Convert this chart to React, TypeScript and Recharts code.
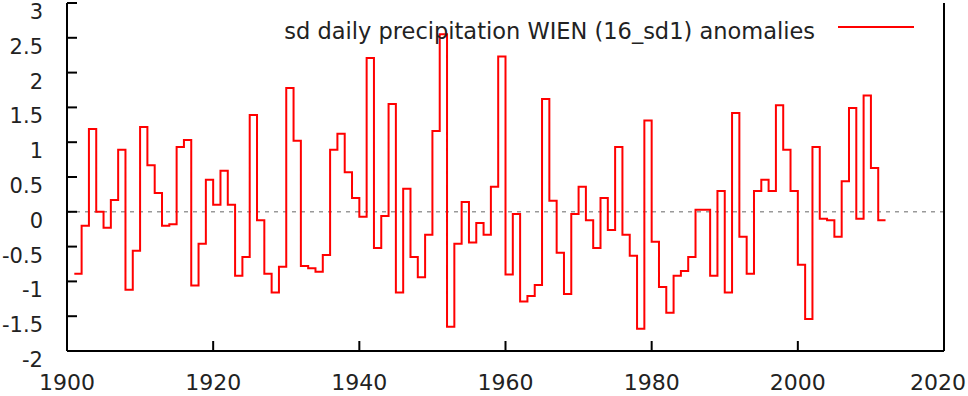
import { LineChart, Line, XAxis, YAxis, ReferenceLine, Legend } from "recharts";

// yearly sd of daily precipitation anomalies, Wien
const YEARS = [
  1901, 1902, 1903, 1904, 1905, 1906, 1907, 1908, 1909, 1910,
  1911, 1912, 1913, 1914, 1915, 1916, 1917, 1918, 1919, 1920,
  1921, 1922, 1923, 1924, 1925, 1926, 1927, 1928, 1929, 1930,
  1931, 1932, 1933, 1934, 1935, 1936, 1937, 1938, 1939, 1940,
  1941, 1942, 1943, 1944, 1945, 1946, 1947, 1948, 1949, 1950,
  1951, 1952, 1953, 1954, 1955, 1956, 1957, 1958, 1959, 1960,
  1961, 1962, 1963, 1964, 1965, 1966, 1967, 1968, 1969, 1970,
  1971, 1972, 1973, 1974, 1975, 1976, 1977, 1978, 1979, 1980,
  1981, 1982, 1983, 1984, 1985, 1986, 1987, 1988, 1989, 1990,
  1991, 1992, 1993, 1994, 1995, 1996, 1997, 1998, 1999, 2000,
  2001, 2002, 2003, 2004, 2005, 2006, 2007, 2008, 2009, 2010,
  2011, 2012,
];

// last value repeated at 2012 so the final step gets its width
const ANOMALIES = [
  -0.89, -0.2, 1.19, 0.0, -0.23, 0.17, 0.89, -1.12, -0.56, 1.22,
  0.67, 0.27, -0.2, -0.18, 0.93, 1.03, -1.06, -0.46, 0.46, 0.1,
  0.59, 0.1, -0.92, -0.65, 1.39, -0.12, -0.89, -1.16, -0.79, 1.78,
  1.02, -0.78, -0.81, -0.86, -0.62, 0.89, 1.12, 0.57, 0.2, -0.07,
  2.21, -0.52, -0.06, 1.55, -1.16, 0.33, -0.65, -0.94, -0.33, 1.16,
  2.55, -1.65, -0.46, 0.14, -0.44, -0.16, -0.33, 0.36, 2.23, -0.9,
  -0.03, -1.29, -1.21, -1.05, 1.62, 0.16, -0.59, -1.18, -0.03, 0.36,
  -0.12, -0.52, 0.2, -0.26, 0.93, -0.33, -0.63, -1.68, 1.31, -0.43,
  -1.08, -1.45, -0.92, -0.85, -0.65, 0.03, 0.03, -0.92, 0.3, -1.16,
  1.42, -0.36, -0.89, 0.3, 0.46, 0.3, 1.53, 0.89, 0.3, -0.76,
  -1.54, 0.93, -0.1, -0.12, -0.36, 0.44, 1.49, -0.1, 1.67, 0.63,
  -0.12, -0.12,
];

const X_TICKS = [1900, 1920, 1940, 1960, 1980, 2000, 2020];
const Y_TICKS = [-2, -1.5, -1, -0.5, 0, 0.5, 1, 1.5, 2, 2.5, 3];

const LEGEND_LABEL = "sd daily precipitation WIEN (16_sd1) anomalies";

const data = YEARS.map((year, i) => ({ year, value: ANOMALIES[i] }));

const FONT = "'DejaVu Sans', sans-serif";
const TICK_LEN = 10;
const CHART_W = 968;

const BottomTick = ({ x, y, payload }: any) => {
  // keep the last label inside the picture
  const half = 28;
  const cx = Math.min(x, CHART_W - half - 2);
  return (
    <g>
      <line x1={x} y1={y} x2={x} y2={y - TICK_LEN} stroke="#000" strokeWidth={2} />
      <text x={cx} y={y + 39} textAnchor="middle" fontSize={22} fontFamily={FONT} fill="#222">
        {payload.value}
      </text>
    </g>
  );
};

const TopTick = ({ x, y }: any) => (
  <line x1={x} y1={y} x2={x} y2={y + TICK_LEN} stroke="#000" strokeWidth={2} />
);

const LeftTick = ({ x, y, payload }: any) => (
  <g>
    <line x1={x} y1={y} x2={x + TICK_LEN} y2={y} stroke="#000" strokeWidth={2} />
    <text x={x - 24} y={y + 16} textAnchor="end" fontSize={21} fontFamily={FONT} fill="#222">
      {String(payload.value)}
    </text>
  </g>
);

const RightTick = ({ x, y }: any) => (
  <line x1={x} y1={y} x2={x - TICK_LEN} y2={y} stroke="#000" strokeWidth={2} />
);

const LegendBox = () => (
  <div style={{ position: "relative", width: CHART_W, height: 30, fontFamily: FONT }}>
    <span
      style={{
        position: "absolute",
        right: CHART_W - 815,
        top: 4,
        fontSize: 22.5,
        lineHeight: "26px",
        color: "#222",
        whiteSpace: "nowrap",
      }}
    >
      {LEGEND_LABEL}
    </span>
    <div
      style={{
        position: "absolute",
        left: 838,
        top: 12,
        width: 76,
        height: 2,
        background: "#ff0000",
      }}
    />
  </div>
);

export default function App() {
  return (
    <div style={{ position: "absolute", left: 0, top: 0, background: "#fff" }}>
      <LineChart
        width={CHART_W}
        height={396}
        data={data}
        margin={{ top: 3, right: 0, bottom: 0, left: 0 }}
      >
        <XAxis
          dataKey="year"
          type="number"
          domain={[1900, 2020]}
          ticks={X_TICKS}
          interval={0}
          height={45}
          tickSize={0}
          tickMargin={0}
          tickLine={false}
          axisLine={{ stroke: "#000", strokeWidth: 2 }}
          tick={<BottomTick />}
        />
        <XAxis
          xAxisId="top"
          orientation="top"
          dataKey="year"
          type="number"
          domain={[1900, 2020]}
          ticks={X_TICKS}
          interval={0}
          height={0}
          tickSize={0}
          tickMargin={0}
          tickLine={false}
          axisLine={{ stroke: "#000", strokeWidth: 2 }}
          tick={<TopTick />}
        />
        <YAxis
          type="number"
          domain={[-2, 3]}
          ticks={Y_TICKS}
          interval={0}
          width={67}
          tickSize={0}
          tickMargin={0}
          tickLine={false}
          axisLine={{ stroke: "#000", strokeWidth: 2 }}
          tick={<LeftTick />}
        />
        <YAxis
          yAxisId="right"
          orientation="right"
          type="number"
          domain={[-2, 3]}
          ticks={Y_TICKS}
          interval={0}
          width={24}
          tickSize={0}
          tickMargin={0}
          tickLine={false}
          axisLine={{ stroke: "#000", strokeWidth: 2 }}
          tick={<RightTick />}
        />
        <ReferenceLine y={0} stroke="#999" strokeWidth={1.5} strokeDasharray="4 5" />
        <Legend
          verticalAlign="middle"
          content={<LegendBox />}
          wrapperStyle={{ position: "absolute", top: 14, left: 0, width: CHART_W }}
        />
        <Line
          dataKey="value"
          type="stepAfter"
          stroke="#ff0000"
          strokeWidth={2}
          dot={false}
          activeDot={false}
          isAnimationActive={false}
        />
      </LineChart>
    </div>
  );
}
